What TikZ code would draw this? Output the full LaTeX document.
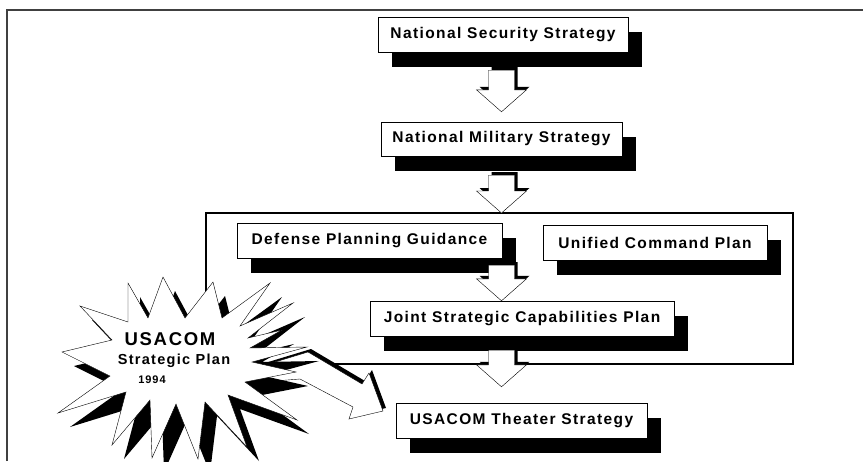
\documentclass[tikz,border=0pt]{standalone}
\usepackage{fontspec}
\newfontfamily\planfont[LetterSpace=9]{Liberation Sans}
\usetikzlibrary{calc, shadows}
\tikzset{
plan/.style={draw, thin, fill=white, minimum height=35pt, inner xsep=2pt,
  font=\planfont\bfseries\fontsize{15.5}{18}\selectfont,
  drop shadow={shadow xshift=13.5pt, shadow yshift=-15pt, fill=black, opacity=1}}, % boxes with a solid black shadow
raised/.style={draw, thin, fill=white, line join=miter,
  preaction={fill=black, transform canvas={shift={(3pt,3pt)}}}}, % black edge on top and right
blockarrow/.style={raised, to path={let \p1=(\tikztostart), \p2=(\tikztotarget) in
  (\x2-13pt,\y1) -- (\x2+13pt,\y1) -- (\x2+13pt,\y2+22pt) -- (\x2+25pt,\y2+22pt)
  -- (\p2) -- (\x2-25pt,\y2+22pt) -- (\x2-13pt,\y2+22pt) -- cycle}},
burst/.style={draw, thin, fill=white, line join=miter,
  preaction={fill=black, transform canvas={shift={(12pt,-14pt)}}}},
burstlabel/.style={anchor=base, inner sep=0pt},
}
\begin{document}
\begin{tikzpicture}[x=1pt, y=-1pt]
\useasboundingbox (0,0) rectangle (863,461);
% frames
\draw[line width=1.6pt, black!75] (7,461) -- (7,10) -- (863,10);
\draw[line width=1.8pt] (206,213) coordinate (fnw) rectangle (793,364) coordinate (fse);

% boxes
\node[plan, minimum width=250pt] (nss) at (503,34.5) {National Security Strategy};
\node[plan, minimum width=241pt, minimum height=34pt] (nms) at (501.5,139) {National Military Strategy};
\node[plan, minimum width=265pt] (dpg) at (369.5,240.5) {Defense Planning Guidance};
\node[plan, minimum width=224pt] (ucp) at (655,242.5) {Unified Command Plan};
\node[plan, minimum width=304pt] (jscp) at (522,318.5) {Joint Strategic Capabilities Plan};
\node[plan, minimum width=251pt] (uts) at (521.5,420.5) {USACOM Theater Strategy};

% arrows
\draw[blockarrow] ([yshift=-18pt]nss.south) to ([yshift=10pt]nms.north);
\draw[blockarrow] ([yshift=-19pt]nms.south) to (nms.south |- fnw);
\draw[blockarrow] ([yshift=-7pt]nms.south |- dpg.south) to (nms.south |- jscp.north);
\draw[blockarrow] ([yshift=-14pt]nms.south |- jscp.south) to ([yshift=16pt]nms.south |- uts.north);

% zigzag arrow out of the burst
\draw[raised] (262,366) -- (308,352) -- (362,384) -- (369,373) -- (383,411)
  -- (349,419) -- (353,407) -- (300,379) -- (262,382) -- cycle;

% burst
\draw[burst] (163,277) -- (185,318) -- (213,282) -- (222,318) -- (270,283) -- (240,326)
  -- (293,303) -- (248,338) -- (282,330) -- (250,348) -- (307,347) -- (252,362)
  -- (296,372) -- (245,382) -- (297,420) -- (228,395) -- (247,447) -- (205,402)
  -- (198,459) -- (176,404) -- (152,458) -- (150,400) -- (112,445) -- (126,392)
  -- (58,413) -- (110,376) -- (62,352) -- (112,340) -- (80,306) -- (128,322)
  -- (128,283) -- (148,318) -- cycle;
\node[burstlabel, font=\planfont\bfseries\fontsize{18.5}{20}\selectfont] (usacom) at (170,345) {USACOM};
\node[burstlabel, font=\planfont\bfseries\fontsize{14.5}{17}\selectfont] (splan) at (174,364) {Strategic Plan};
\node[burstlabel, font=\planfont\bfseries\fontsize{11}{12}\selectfont] (year) at (152,383) {1994};
\end{tikzpicture}
\end{document}
